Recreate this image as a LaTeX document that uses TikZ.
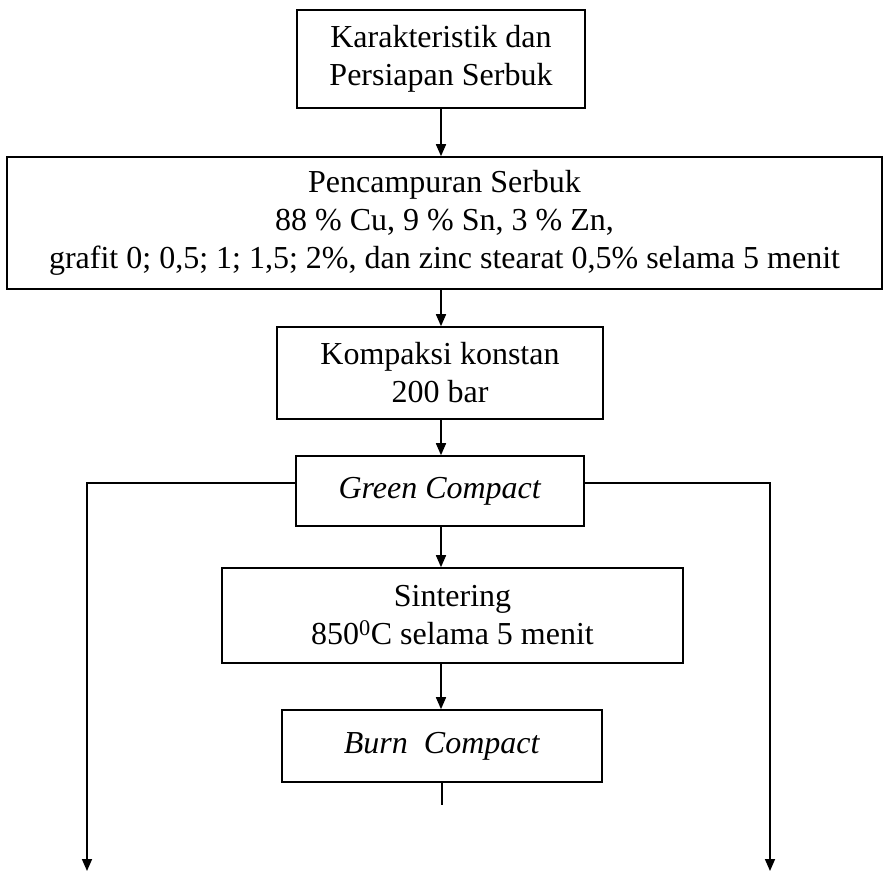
\documentclass[tikz,border=0pt]{standalone}
\usepackage{fontspec}
\setmainfont{Liberation Serif}
\usetikzlibrary{arrows.meta}
\begin{document}
\begin{tikzpicture}[x=1pt,y=-1pt,
  box/.style={draw, line width=1.6pt, inner sep=0pt, align=center,
    font=\fontsize{32}{38}\selectfont},
  arr/.style={line width=1.6pt, -{Triangle[length=12pt,width=10pt]}},
  ln/.style={line width=1.6pt}]
\useasboundingbox (0,0) rectangle (884,874);
\node[box, minimum width=288pt, minimum height=98pt] (b1) at (441,59)
  {Karakteristik dan\\Persiapan Serbuk};
\node[box, minimum width=875pt, minimum height=132pt] (b2) at (444.5,223)
  {Pencampuran Serbuk\\88 \% Cu, 9 \% Sn, 3 \% Zn,\\grafit 0; 0,5; 1; 1,5; 2\%, dan zinc stearat 0,5\% selama 5 menit};
\node[box, minimum width=326pt, minimum height=92pt] (b3) at (440,373)
  {Kompaksi konstan\\200 bar};
\node[box, minimum width=288pt, minimum height=70pt] (b4) at (440,491)
  {\textit{Green Compact}};
\node[box, minimum width=461pt, minimum height=95pt] (b5) at (452.5,615.5)
  {Sintering\\850\textsuperscript{0}C selama 5 menit};
\node[box, minimum width=320pt, minimum height=72pt] (b6) at (442,746)
  {\textit{Burn~~Compact}};
\coordinate (L) at (87,871);
\coordinate (R) at (770,871);
\coordinate (E) at (442,805);
\draw[arr] (b1.south) -- (b1.south |- b2.north);
\draw[arr] (b1.south |- b2.south) -- (b1.south |- b3.north);
\draw[arr] (b1.south |- b3.south) -- (b1.south |- b4.north);
\draw[arr] (b1.south |- b4.south) -- (b1.south |- b5.north);
\draw[arr] (b1.south |- b5.south) -- (b1.south |- b6.north);
\draw[ln] (b6.south) -- (E);
\draw[arr] ([yshift=8pt]b4.west) -| (L);
\draw[arr] ([yshift=8pt]b4.east) -| (R);
\end{tikzpicture}
\end{document}
